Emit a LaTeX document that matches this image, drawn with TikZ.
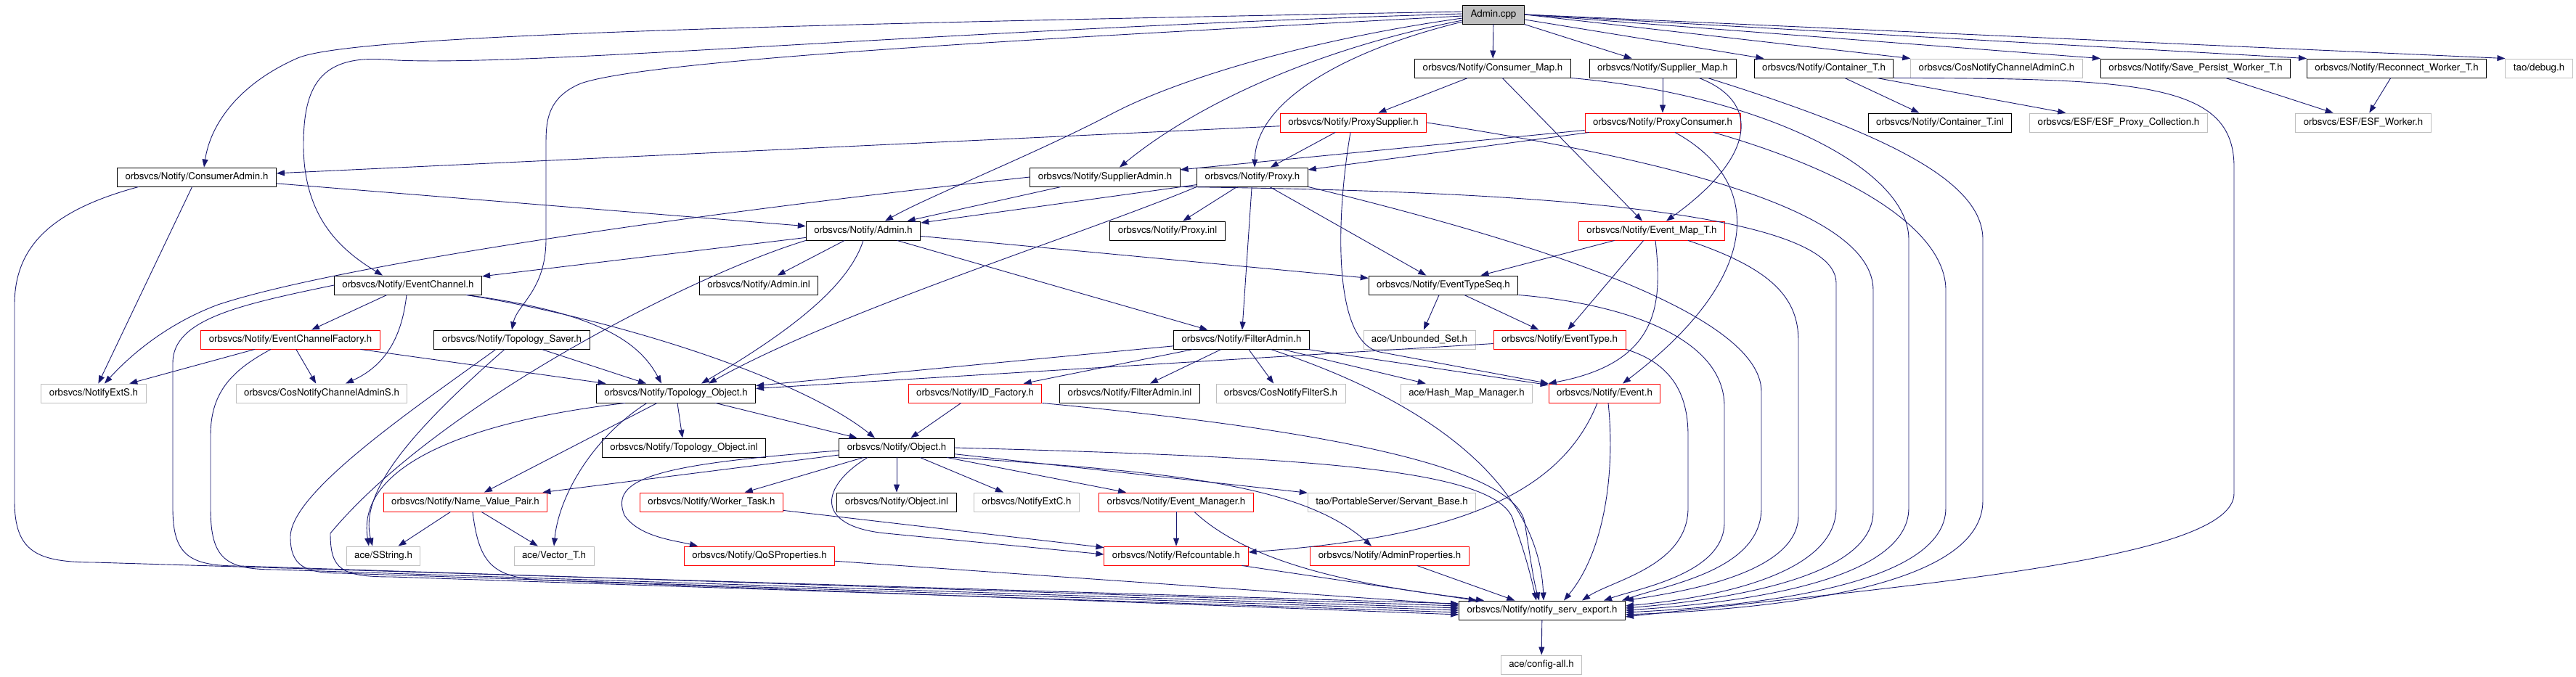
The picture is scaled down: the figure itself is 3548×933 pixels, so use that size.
\documentclass[tikz,border=0pt]{standalone}
\usepackage{fontspec}
\setmainfont{TeX Gyre Heros}
\usetikzlibrary{arrows.meta}
\definecolor{linkblue}{HTML}{191970}
\definecolor{extgray}{HTML}{BFBFBF}
\begin{document}
\begin{tikzpicture}[x=1pt,y=-1pt,
  hdr/.style={draw=black,line width=0.9pt,fill=white,minimum height=26pt,inner xsep=11pt,inner ysep=0pt,
    text height=9.5pt,text depth=2.5pt,font=\fontsize{13.3}{15}\selectfont},
  redhdr/.style={hdr,draw=red},
  exthdr/.style={hdr,draw=extgray},
  inc/.style={draw=linkblue,line width=0.9pt,-{Triangle[length=11pt,width=8pt]}}]
\useasboundingbox (0,0) rectangle (3548,933);
%% files
\node[hdr,fill=extgray] (acpp) at (2057,20) {Admin.cpp};
\node[hdr] (cmap) at (2056,94) {orbsvcs/Notify/Consumer\_Map.h};
\node[hdr] (smap) at (2290,94) {orbsvcs/Notify/Supplier\_Map.h};
\node[hdr] (cont) at (2512,94) {orbsvcs/Notify/Container\_T.h};
\node[exthdr] (cnac) at (2750,94) {orbsvcs/CosNotifyChannelAdminC.h};
\node[hdr] (spw) at (3024,94) {orbsvcs/Notify/Save\_Persist\_Worker\_T.h};
\node[hdr] (rcw) at (3301,94) {orbsvcs/Notify/Reconnect\_Worker\_T.h};
\node[exthdr] (dbg) at (3497,94) {tao/debug.h};
\node[redhdr] (psup) at (1864,169) {orbsvcs/Notify/ProxySupplier.h};
\node[redhdr] (pcon) at (2290,169) {orbsvcs/Notify/ProxyConsumer.h};
\node[hdr] (cinl) at (2672,169) {orbsvcs/Notify/Container\_T.inl};
\node[exthdr] (esfp) at (2918,169) {orbsvcs/ESF/ESF\_Proxy\_Collection.h};
\node[exthdr] (esfw) at (3255,169) {orbsvcs/ESF/ESF\_Worker.h};
\node[hdr] (cadm) at (271,244) {orbsvcs/Notify/ConsumerAdmin.h};
\node[hdr] (sadm) at (1522,244) {orbsvcs/Notify/SupplierAdmin.h};
\node[hdr] (prox) at (1725,244) {orbsvcs/Notify/Proxy.h};
\node[hdr] (adm) at (1189,318) {orbsvcs/Notify/Admin.h};
\node[hdr] (pinl) at (1608,318) {orbsvcs/Notify/Proxy.inl};
\node[redhdr] (emap) at (2275,318) {orbsvcs/Notify/Event\_Map\_T.h};
\node[hdr] (ech) at (562,393) {orbsvcs/Notify/EventChannel.h};
\node[hdr] (ainl) at (1045,393) {orbsvcs/Notify/Admin.inl};
\node[hdr] (ets) at (1988,393) {orbsvcs/Notify/EventTypeSeq.h};
\node[redhdr] (ecf) at (400,468) {orbsvcs/Notify/EventChannelFactory.h};
\node[hdr] (tsav) at (705,468) {orbsvcs/Notify/Topology\_Saver.h};
\node[hdr] (fadm) at (1710,468) {orbsvcs/Notify/FilterAdmin.h};
\node[exthdr] (unb) at (1955,468) {ace/Unbounded\_Set.h};
\node[redhdr] (etyp) at (2148,468) {orbsvcs/Notify/EventType.h};
\node[exthdr] (exts) at (129,542) {orbsvcs/NotifyExtS.h};
\node[exthdr] (cnas) at (443,542) {orbsvcs/CosNotifyChannelAdminS.h};
\node[hdr] (tobj) at (931,542) {orbsvcs/Notify/Topology\_Object.h};
\node[redhdr] (idf) at (1343,542) {orbsvcs/Notify/ID\_Factory.h};
\node[hdr] (finl) at (1556,542) {orbsvcs/Notify/FilterAdmin.inl};
\node[exthdr] (cnfs) at (1764,542) {orbsvcs/CosNotifyFilterS.h};
\node[exthdr] (hmm) at (2020,542) {ace/Hash\_Map\_Manager.h};
\node[redhdr] (evt) at (2210,542) {orbsvcs/Notify/Event.h};
\node[hdr] (toin) at (942,617) {orbsvcs/Notify/Topology\_Object.inl};
\node[hdr] (obj) at (1235,617) {orbsvcs/Notify/Object.h};
\node[redhdr] (nvp) at (641,692) {orbsvcs/Notify/Name\_Value\_Pair.h};
\node[redhdr] (wtsk) at (980,692) {orbsvcs/Notify/Worker\_Task.h};
\node[hdr] (oinl) at (1235,692) {orbsvcs/Notify/Object.inl};
\node[exthdr] (extc) at (1414,692) {orbsvcs/NotifyExtC.h};
\node[redhdr] (emgr) at (1620,692) {orbsvcs/Notify/Event\_Manager.h};
\node[exthdr] (sbase) at (1917,692) {tao/PortableServer/Servant\_Base.h};
\node[exthdr] (sstr) at (528,766) {ace/SString.h};
\node[exthdr] (vect) at (763,766) {ace/Vector\_T.h};
\node[redhdr] (qos) at (1046,766) {orbsvcs/Notify/QoSProperties.h};
\node[redhdr] (refc) at (1620,766) {orbsvcs/Notify/Refcountable.h};
\node[redhdr] (aprop) at (1914,766) {orbsvcs/Notify/AdminProperties.h};
\node[hdr] (nse) at (2124,841) {orbsvcs/Notify/notify\_serv\_export.h};
\node[exthdr] (cfg) at (2123,916) {ace/config-all.h};
%% Admin.cpp
\draw[inc] (acpp) -- (cmap);
\draw[inc] (acpp) -- (smap);
\draw[inc] (acpp) -- (cont);
\draw[inc] (acpp.east) -- (cnac.north west);
\draw[inc] (acpp.east) -- (spw.north west);
\draw[inc] (acpp.east) -- (rcw.north west);
\draw[inc] (acpp.east) -- (dbg.north west);
\draw[inc] ([yshift=4pt]acpp.west) .. controls (1000,35) and (480,50) .. (410,80) .. controls (330,115) and (290,170) .. ([xshift=10pt]cadm.north);
\draw[inc] ([yshift=1pt]acpp.west) .. controls (1300,40) and (700,95) .. (530,82) .. controls (440,76) and (418,120) .. (418,200) .. controls (418,300) and (470,345) .. ([xshift=-35pt]ech.north);
\draw[inc] ([yshift=-2pt]acpp.west) .. controls (1500,50) and (900,80) .. (800,115) .. controls (752,135) and (752,170) .. (752,200) -- (752,330) .. controls (752,400) and (712,420) .. (tsav.north);
\draw[inc] ([yshift=-5pt]acpp.west) .. controls (1800,55) and (1620,110) .. (1531,157) .. controls (1420,215) and (1280,270) .. ([xshift=30pt]adm.north);
\draw[inc] ([yshift=-8pt]acpp.west) .. controls (1800,70) and (1640,150) .. ([xshift=20pt]sadm.north);
\draw[inc] ([yshift=-10pt]acpp.west) .. controls (1850,70) and (1730,140) .. ([xshift=3pt]prox.north);
%% maps and containers
\draw[inc] (cmap) -- (psup);
\draw[inc] (cmap) -- (emap);
\draw[inc] (smap) -- (pcon);
\draw[inc] ([xshift=50pt]smap.south) .. controls (2425,140) and (2420,215) .. ([xshift=20pt]emap.north);
\draw[inc] (cont) -- (cinl);
\draw[inc] (cont) -- (esfp);
\draw[inc] (spw) -- (esfw);
\draw[inc] (rcw) -- (esfw);
%% proxies and admins
\draw[inc] (psup) -- (cadm);
\draw[inc] (psup) -- (prox);
\draw[inc] (pcon) -- (sadm);
\draw[inc] (pcon) -- (prox);
\draw[inc] (cadm) -- (adm);
\draw[inc] (cadm) -- (exts);
\draw[inc] (sadm.west) .. controls (900,300) and (450,370) .. (300,420) .. controls (220,450) and (170,500) .. ([xshift=15pt]exts.north);
\draw[inc] (sadm) -- (adm);
\draw[inc] (prox) -- (adm);
\draw[inc] (prox) -- (pinl);
\draw[inc] (prox) -- (fadm);
\draw[inc] (prox) -- (ets);
\draw[inc] (prox.south west) .. controls (1500,320) and (1150,430) .. ([xshift=45pt]tobj.north);
%% Admin.h
\draw[inc] (adm) -- (ainl);
\draw[inc] (adm) -- (ech);
\draw[inc] (adm) -- (fadm);
\draw[inc] (adm) -- (ets);
\draw[inc] (adm.south) .. controls (1170,390) and (1100,450) .. ([xshift=35pt]tobj.north);
%% event types
\draw[inc] (emap) -- (ets);
\draw[inc] (emap) -- (etyp);
\draw[inc] ([xshift=5pt]emap.south) .. controls (2290,420) and (2285,500) .. (evt.north west);
\draw[inc] (ets) -- (unb);
\draw[inc] (ets) -- (etyp);
\draw[inc] (etyp) -- (tobj);
%% EventChannel.h
\draw[inc] (ech) -- (ecf);
\draw[inc] ([xshift=-2pt]ech.south) .. controls (555,450) and (540,500) .. ([xshift=33pt]cnas.north);
\draw[inc] ([xshift=80pt]ech.south) .. controls (820,430) and (880,470) .. ([xshift=-20pt]tobj.north);
\draw[inc] ([xshift=80pt]ech.south) .. controls (850,440) and (1100,520) .. ([xshift=-30pt]obj.north);
\draw[inc] (ecf) -- (exts);
\draw[inc] (ecf) -- (cnas);
\draw[inc] (ecf) -- (tobj);
\draw[inc] (tsav) -- (tobj);
\draw[inc] ([xshift=-10pt]tsav.south) .. controls (560,600) and (495,680) .. ([xshift=-15pt]sstr.north);
%% Topology_Object.h
\draw[inc] ([xshift=-70pt]tobj.south) .. controls (650,580) and (490,640) .. ([xshift=-20pt]sstr.north);
\draw[inc] (tobj) -- (toin);
\draw[inc] (tobj) -- (obj);
\draw[inc] (tobj) -- (nvp);
\draw[inc] ([xshift=-40pt]tobj.south) .. controls (820,600) and (770,680) .. (vect.north);
%% FilterAdmin.h
\draw[inc] (fadm) -- (tobj);
\draw[inc] (fadm) -- (idf);
\draw[inc] (fadm) -- (finl);
\draw[inc] (fadm) -- (cnfs);
\draw[inc] (fadm) -- (hmm);
\draw[inc] (fadm) -- (evt);
%% Object.h
\draw[inc] (idf) -- (obj);
\draw[inc] (obj) -- (oinl);
\draw[inc] (obj) -- (extc);
\draw[inc] (obj) -- (emgr);
\draw[inc] (obj) -- (wtsk);
\draw[inc] (obj) -- (nvp);
\draw[inc] ([yshift=-4pt]obj.west) .. controls (900,640) and (840,660) .. (860,710) .. controls (880,740) and (930,745) .. ([xshift=-85pt]qos.north);
\draw[inc] ([xshift=-40pt]obj.south) .. controls (1130,670) and (1120,725) .. (1220,735) -- ([yshift=2pt]refc.west);
\draw[inc] (obj) -- (sbase);
\draw[inc] (obj.south east) .. controls (1600,650) and (1790,665) .. ([xshift=-25pt]aprop.north);
%% Event.h
\draw[inc] ([xshift=17pt]pcon.south) .. controls (2430,250) and (2430,380) .. ([xshift=25pt]evt.north);
\draw[inc] ([xshift=-4pt]psup.south) .. controls (1840,300) and (1835,470) .. (1900,485) -- (evt.north west);
\draw[inc] ([xshift=-10pt]evt.south) .. controls (2150,680) and (2010,740) .. ([yshift=5pt]refc.east);
\draw[inc] (emgr) -- (refc);
\draw[inc] (wtsk) -- (refc);
\draw[inc] (nvp) -- (sstr);
\draw[inc] (nvp) -- (vect);
%% into notify_serv_export.h, left side
\draw[inc] ([xshift=-80pt]cadm.south) .. controls (70,290) and (20,340) .. (20,420) -- (20,690) .. controls (20,760) and (50,775) .. (130,775) -- ([yshift=9pt]nse.west);
\draw[inc] (ech.west) .. controls (330,420) and (238,440) .. (238,500) -- (238,700) .. controls (238,765) and (260,780) .. (330,780) -- ([yshift=6pt]nse.west);
\draw[inc] ([xshift=-27pt]ecf.south) .. controls (320,510) and (290,540) .. (290,600) -- (290,700) .. controls (290,770) and (310,785) .. (380,785) -- ([yshift=3pt]nse.west);
\draw[inc] ([xshift=-22pt]tsav.south) .. controls (560,570) and (400,680) .. (400,740) .. controls (400,780) and (420,790) .. (470,790) -- (nse.west);
\draw[inc] (adm.south west) .. controls (950,380) and (600,560) .. (455,735) .. controls (455,785) and (470,795) .. (540,795) -- ([yshift=-3pt]nse.west);
\draw[inc] ([xshift=10pt]nvp.south) .. controls (660,780) and (680,798) .. (760,800) -- ([yshift=-6pt]nse.west);
\draw[inc] (qos) -- (nse);
\draw[inc] (refc) -- (nse);
\draw[inc] ([xshift=25pt]emgr.south) .. controls (1730,785) and (1900,810) .. ([xshift=-80pt]nse.north);
\draw[inc] (aprop) -- (nse);
%% into notify_serv_export.h, from above
\draw[inc] (obj.east) .. controls (1800,630) and (2070,645) .. (2085,720) .. controls (2100,760) and (2110,800) .. ([xshift=-8pt]nse.north);
\draw[inc] (idf.south east) .. controls (1800,590) and (2085,640) .. (2100,720) .. controls (2108,770) and (2112,800) .. ([xshift=-4pt]nse.north);
\draw[inc] ([xshift=40pt]fadm.south) .. controls (1990,560) and (2120,680) .. ([xshift=2pt]nse.north);
\draw[inc] ([xshift=5pt]evt.south) .. controls (2225,650) and (2210,760) .. ([xshift=30pt]nse.north);
\draw[inc] (etyp.south east) .. controls (2300,500) and (2325,540) .. (2325,600) -- (2325,700) .. controls (2325,780) and (2220,800) .. ([xshift=55pt]nse.north);
\draw[inc] (ets.south east) .. controls (2250,420) and (2375,470) .. (2375,560) -- (2375,720) .. controls (2375,790) and (2260,810) .. ([xshift=85pt]nse.north);
\draw[inc] (prox.south east) .. controls (2100,330) and (2426,430) .. (2426,540) -- (2426,700) .. controls (2426,785) and (2300,805) .. ([xshift=110pt]nse.north);
\draw[inc] ([xshift=50pt]emap.south) .. controls (2440,370) and (2477,410) .. (2477,470) -- (2477,710) .. controls (2477,790) and (2320,815) .. (nse.north east);
%% into notify_serv_export.h, right side
\draw[inc] (sadm.south east) .. controls (1950,262) and (2529,275) .. (2529,390) -- (2529,700) .. controls (2529,795) and (2350,825) .. ([yshift=6pt]nse.east);
\draw[inc] (psup.east) .. controls (2300,220) and (2580,290) .. (2580,400) -- (2580,705) .. controls (2580,800) and (2360,828) .. ([yshift=3pt]nse.east);
\draw[inc] (cmap.south east) .. controls (2420,130) and (2629,230) .. (2629,330) -- (2629,700) .. controls (2629,805) and (2380,832) .. (nse.east);
\draw[inc] ([xshift=70pt]pcon.south) .. controls (2560,240) and (2680,320) .. (2680,400) -- (2680,700) .. controls (2680,810) and (2400,836) .. ([yshift=-3pt]nse.east);
\draw[inc] ([xshift=62pt]smap.south) .. controls (2600,185) and (2731,250) .. (2731,330) -- (2731,690) .. controls (2731,815) and (2420,840) .. ([yshift=-6pt]nse.east);
\draw[inc] (cont.south east) .. controls (2950,108) and (3077,115) .. (3077,230) -- (3077,680) .. controls (3077,770) and (2650,805) .. ([yshift=-9pt]nse.east);
\draw[inc] (nse) -- (cfg);
\end{tikzpicture}
\end{document}
